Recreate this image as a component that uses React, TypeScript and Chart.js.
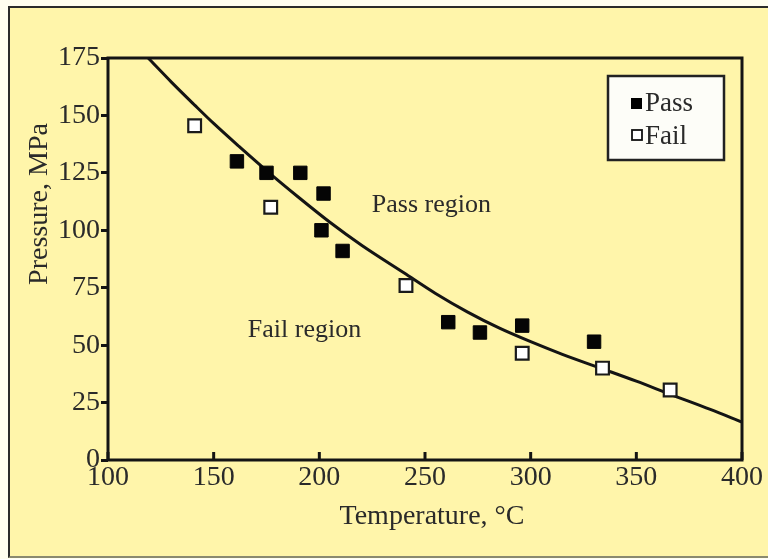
import React, { useEffect, useRef } from "react";
import { Chart, registerables } from "chart.js";

Chart.register(...registerables);

// ---- data ----
const passTemps = [161, 175, 191, 202, 201, 211, 261, 276, 296, 330];
const passPressures = [130, 125, 125, 116, 100, 91, 60, 55.5, 58.5, 51.5];
const failTemps = [141, 177, 241, 296, 334, 366];
const failPressures = [145.5, 110, 76, 46.5, 40, 30.5];
const curveTemps = [119, 130, 141, 150, 162, 175, 190, 205, 220, 240, 255, 270, 285, 300, 315, 333, 350, 366, 385, 400];
const curvePressures = [175, 164.5, 154.5, 146.5, 136.5, 126, 114.5, 103.5, 93.5, 81.5, 72.5, 64.5, 57.5, 51.5, 46, 40, 34.3, 28.6, 22, 16.5];
const regionLabels = ["Pass region", "Fail region"];
const regionTemps = [253, 193];
const regionPressures = [111, 56.5];
const legendLabels = ["Pass", "Fail"];
const xTitle = "Temperature, °C";
const yTitle = "Pressure, MPa";

const FONT = "'Liberation Serif', 'Times New Roman', serif";
const INK = "#2a2a2a";
const LINE = "#141414";

const overlayPlugin = {
  id: "overlay",
  afterDraw(chart: any) {
    const { ctx, chartArea, scales } = chart;
    const xs = scales.x;
    const ys = scales.y;
    ctx.save();
    // frame
    ctx.strokeStyle = LINE;
    ctx.lineWidth = 3;
    ctx.strokeRect(chartArea.left, chartArea.top, chartArea.right - chartArea.left, chartArea.bottom - chartArea.top);
    // x ticks pointing inward
    ctx.lineWidth = 3;
    xs.ticks.forEach((t: any) => {
      const px = xs.getPixelForValue(t.value);
      ctx.beginPath();
      ctx.moveTo(px, chartArea.bottom);
      ctx.lineTo(px, chartArea.bottom - 8);
      ctx.stroke();
    });
    // region labels
    ctx.fillStyle = INK;
    ctx.font = `26px ${FONT}`;
    ctx.textAlign = "center";
    ctx.textBaseline = "middle";
    regionLabels.forEach((lbl, i) => {
      ctx.fillText(lbl, xs.getPixelForValue(regionTemps[i]), ys.getPixelForValue(regionPressures[i]));
    });
    // axis titles
    ctx.font = `28px ${FONT}`;
    ctx.fillText(xTitle, (chartArea.left + chartArea.right) / 2 + 7, 517);
    ctx.save();
    ctx.translate(40, 204);
    ctx.rotate(-Math.PI / 2);
    ctx.fillText(yTitle, 0, 0);
    ctx.restore();
    // legend
    const lx = 608, ly = 76, lw = 116, lh = 84;
    ctx.fillStyle = "#fdfdf8";
    ctx.fillRect(lx, ly, lw, lh);
    ctx.strokeStyle = "#222";
    ctx.lineWidth = 2.5;
    ctx.strokeRect(lx, ly, lw, lh);
    ctx.fillStyle = "#000";
    ctx.fillRect(631, 98, 11, 11);
    ctx.fillStyle = "#fff";
    ctx.fillRect(632, 130, 10, 10);
    ctx.strokeStyle = "#111";
    ctx.lineWidth = 1.8;
    ctx.strokeRect(632, 130, 10, 10);
    ctx.fillStyle = INK;
    ctx.font = `27px ${FONT}`;
    ctx.textAlign = "left";
    ctx.textBaseline = "alphabetic";
    ctx.fillText(legendLabels[0], 645, 111);
    ctx.fillText(legendLabels[1], 645, 144);
    ctx.restore();
  },
};

export default function App() {
  const canvasRef = useRef<HTMLCanvasElement | null>(null);

  useEffect(() => {
    if (!canvasRef.current) return;
    const chart = new Chart(canvasRef.current, {
      type: "scatter",
      data: {
        datasets: [
          {
            label: legendLabels[0],
            data: passTemps.map((t, i) => ({ x: t, y: passPressures[i] })),
            pointStyle: "rect",
            pointRadius: 9.5,
            backgroundColor: "#050505",
            borderColor: "#050505",
            borderWidth: 1,
            order: 0,
          },
          {
            label: legendLabels[1],
            data: failTemps.map((t, i) => ({ x: t, y: failPressures[i] })),
            pointStyle: "rect",
            pointRadius: 9,
            backgroundColor: "#ffffff",
            borderColor: "#1a1a1a",
            borderWidth: 2.2,
            order: 1,
          },
          {
            label: "curve",
            data: curveTemps.map((t, i) => ({ x: t, y: curvePressures[i] })),
            showLine: true,
            pointRadius: 0,
            borderColor: LINE,
            borderWidth: 3,
            cubicInterpolationMode: "monotone",
            fill: false,
            order: 2,
          } as any,
        ],
      },
      options: {
        animation: false,
        responsive: false,
        events: [],
        layout: { padding: { top: 58, right: 26, left: 0, bottom: 0 } },
        plugins: { legend: { display: false }, tooltip: { enabled: false } },
        scales: {
          x: {
            type: "linear",
            min: 100,
            max: 400,
            ticks: { stepSize: 50, font: { family: FONT, size: 28 }, color: INK, padding: 1, maxRotation: 0 },
            grid: { display: false, drawTicks: false },
            border: { display: false },
            afterFit: (s: any) => { s.height = 99; },
          },
          y: {
            type: "linear",
            min: 0,
            max: 175,
            ticks: { stepSize: 25, font: { family: FONT, size: 28 }, color: INK, padding: 1 },
            grid: { display: true, drawOnChartArea: false, drawTicks: true, tickLength: 7, tickWidth: 3, color: LINE },
            border: { display: false },
            afterFit: (s: any) => { s.width = 108; },
          },
        },
      },
      plugins: [overlayPlugin],
    });
    return () => chart.destroy();
  }, []);

  return (
    <div style={{ position: "fixed", left: 0, top: 0, width: 768, height: 559, background: "#fffef0", overflow: "hidden" }}>
      <div
        style={{
          position: "absolute",
          left: 8,
          top: 6,
          width: 780,
          height: 548,
          borderTop: "2px solid #2b2b2b",
          borderLeft: "2px solid #2b2b2b",
          borderBottom: "2px solid #8a8a70",
          background: "#fff5aa",
        }}
      />
      <canvas ref={canvasRef} width={768} height={559} style={{ position: "absolute", left: 0, top: 0 }} />
    </div>
  );
}
